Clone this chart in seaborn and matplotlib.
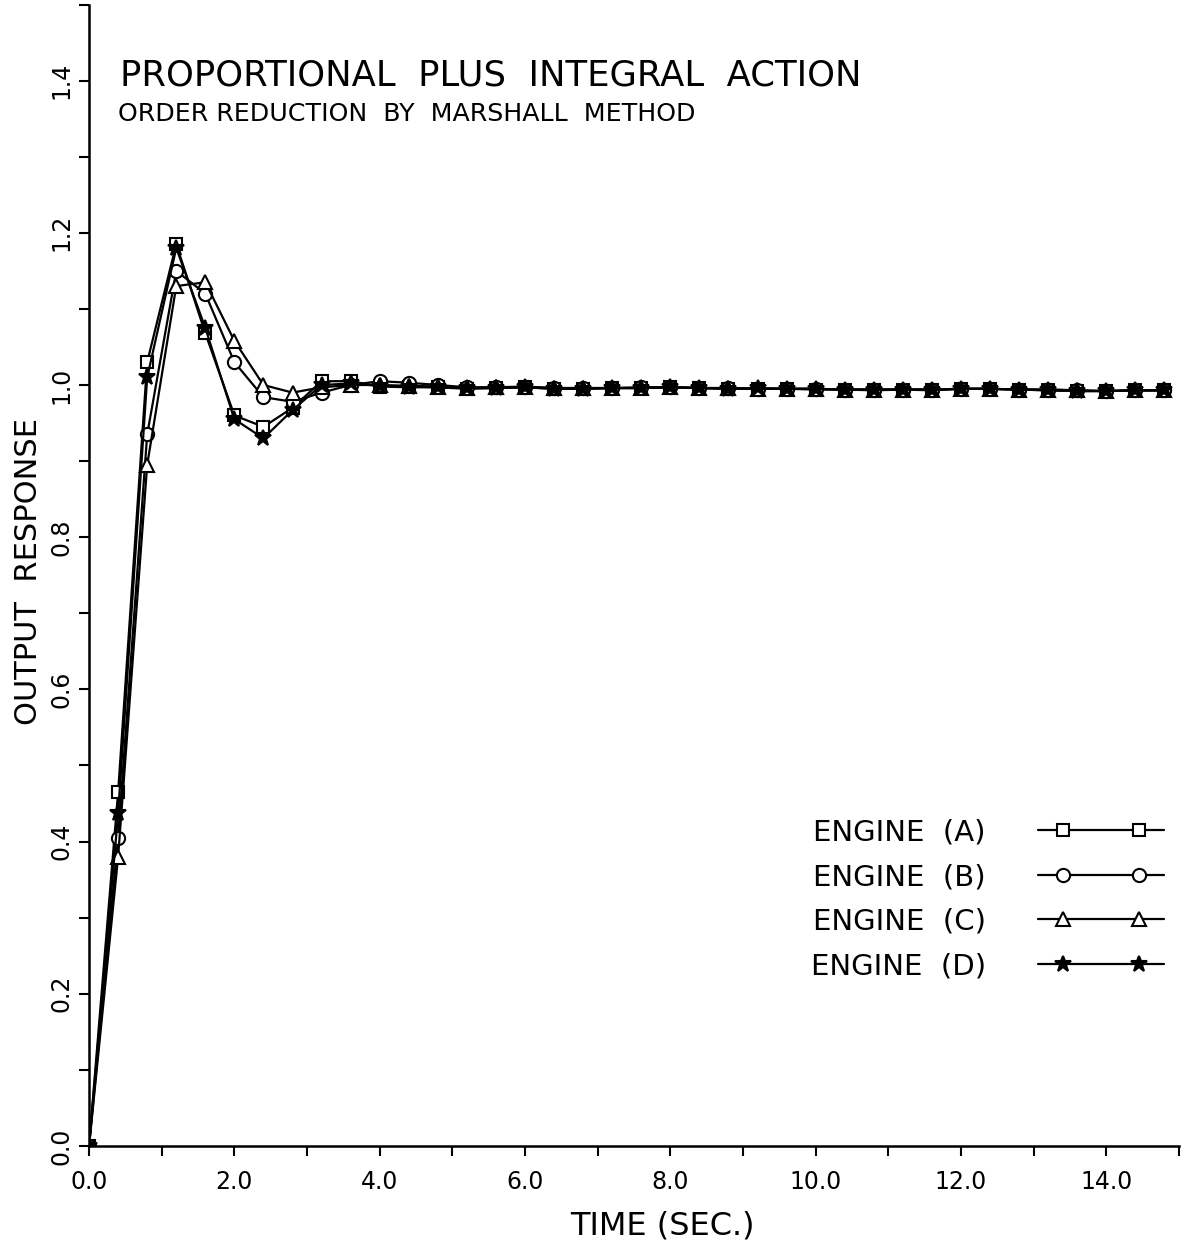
import numpy as np
import pandas as pd
import matplotlib
matplotlib.use("Agg")
import matplotlib.pyplot as plt
import seaborn as sns
from matplotlib.lines import Line2D
from matplotlib.legend_handler import HandlerLine2D
from matplotlib.ticker import MultipleLocator

# sample times (sec.) - markers every 0.4 s
time_s = [0.0, 0.4, 0.8, 1.2, 1.6, 2.0, 2.4, 2.8, 3.2, 3.6,
          4.0, 4.4, 4.8, 5.2, 5.6, 6.0, 6.4, 6.8, 7.2, 7.6,
          8.0, 8.4, 8.8, 9.2, 9.6, 10.0, 10.4, 10.8, 11.2, 11.6,
          12.0, 12.4, 12.8, 13.2, 13.6, 14.0, 14.4, 14.8]

# output response
engine_a = [0.0, 0.465, 1.03, 1.185, 1.068, 0.96, 0.945, 0.97, 1.005, 1.005,
            0.998, 0.997, 0.997, 0.995, 0.996, 0.997, 0.995, 0.995, 0.996, 0.996,
            0.997, 0.996, 0.995, 0.995, 0.995, 0.994, 0.994, 0.993, 0.994, 0.993,
            0.995, 0.995, 0.994, 0.993, 0.992, 0.992, 0.993, 0.993]
engine_b = [0.0, 0.405, 0.935, 1.15, 1.12, 1.03, 0.984, 0.978, 0.99, 1.0,
            1.005, 1.003, 1.0, 0.997, 0.997, 0.998, 0.996, 0.996, 0.996, 0.997,
            0.997, 0.996, 0.996, 0.995, 0.995, 0.995, 0.994, 0.994, 0.994, 0.994,
            0.995, 0.995, 0.994, 0.994, 0.993, 0.992, 0.993, 0.993]
engine_c = [0.0, 0.38, 0.895, 1.13, 1.135, 1.058, 1.0, 0.99, 0.997, 1.0,
            1.0, 0.999, 0.998, 0.996, 0.997, 0.997, 0.996, 0.996, 0.996, 0.996,
            0.997, 0.996, 0.996, 0.995, 0.995, 0.995, 0.994, 0.994, 0.994, 0.994,
            0.995, 0.995, 0.994, 0.994, 0.993, 0.992, 0.993, 0.993]
engine_d = [0.0, 0.437, 1.01, 1.18, 1.075, 0.955, 0.93, 0.967, 1.0, 1.002,
            0.999, 0.998, 0.997, 0.996, 0.996, 0.997, 0.995, 0.995, 0.996, 0.996,
            0.997, 0.996, 0.995, 0.996, 0.995, 0.995, 0.994, 0.994, 0.994, 0.994,
            0.995, 0.995, 0.994, 0.993, 0.992, 0.992, 0.993, 0.993]

engine_names = ["ENGINE  (A)", "ENGINE  (B)", "ENGINE  (C)", "ENGINE  (D)"]
x_ticks = [0, 2, 4, 6, 8, 10, 12, 14]
x_tick_labels = ["0.0", "2.0", "4.0", "6.0", "8.0", "10.0", "12.0", "14.0"]
y_ticks = [0.0, 0.2, 0.4, 0.6, 0.8, 1.0, 1.2, 1.4]
y_tick_labels = ["0.0", "0.2", "0.4", "0.6", "0.8", "1.0", "1.2", "1.4"]

sns.set_theme(style="ticks")
plt.rcParams["font.family"] = ["DejaVu Sans"]
plt.rcParams.update({"text.color": "black", "axes.labelcolor": "black",
                     "xtick.color": "black", "ytick.color": "black"})


class LongLineHandler(HandlerLine2D):
    # line runs the full handle width, the two markers sit inside it
    def create_artists(self, legend, orig_handle, xdescent, ydescent,
                       width, height, fontsize, trans):
        pad = 0.85 * fontsize
        x0 = -xdescent
        x1 = -xdescent + width
        xdata = np.array([x0, x0 + pad, x1 - pad, x1])
        ydata = np.full_like(xdata, (height - ydescent) / 2)
        legline = Line2D(xdata, ydata)
        self.update_prop(legline, orig_handle, legend)
        legline.set_drawstyle("default")
        legline.set_markevery([1, 2])
        legline.set_transform(trans)
        return [legline]


fig = plt.figure(figsize=(11.89, 12.53), dpi=100)
ax = fig.add_axes([0.0749, 0.0854, 0.9167, 0.911])

# marker, face colour, size for each engine
styles = [("s", "white", 8), ("o", "white", 9.5), ("^", "white", 10.5), ("*", "black", 12)]
series = [engine_a, engine_b, engine_c, engine_d]

for name, vals, (mk, fc, ms) in zip(engine_names, series, styles):
    df = pd.DataFrame({"t": time_s, "y": vals})
    sns.lineplot(data=df, x="t", y="y", ax=ax, color="black", linewidth=1.6,
                 marker=mk, markersize=ms, markerfacecolor=fc,
                 markeredgecolor="black", markeredgewidth=1.5,
                 errorbar=None, label=name, legend=False)

ax.set_xlim(0, 15)
ax.set_ylim(0, 1.5)
ax.set_xticks(x_ticks)
ax.set_xticklabels(x_tick_labels, fontsize=17)
ax.xaxis.set_minor_locator(MultipleLocator(1.0))
ax.set_yticks(y_ticks)
ax.set_yticklabels(y_tick_labels, fontsize=17, rotation=90, va="center")
ax.yaxis.set_minor_locator(MultipleLocator(0.1))
ax.tick_params(which="both", direction="out", length=7, width=1.5, color="black")
ax.tick_params(axis="x", pad=10)
ax.tick_params(axis="y", pad=4)
sns.despine(ax=ax)
for side in ["left", "bottom"]:
    ax.spines[side].set_linewidth(1.8)
    ax.spines[side].set_color("black")

ax.set_xlabel("TIME (SEC.)", fontsize=23)
ax.xaxis.set_label_coords(0.526, -0.07)
ax.xaxis.label.set_va("center")
ax.set_ylabel("OUTPUT  RESPONSE", fontsize=22)
ax.yaxis.set_label_coords(-0.056, 0.503)
ax.yaxis.label.set_va("center")

fig.text(120 / 1189, 1 - 85 / 1253, "PROPORTIONAL  PLUS  INTEGRAL  ACTION",
         fontsize=25.5, ha="left", va="baseline")
fig.text(118 / 1189, 1 - 121 / 1253, "ORDER REDUCTION  BY  MARSHALL  METHOD",
         fontsize=18.2, ha="left", va="baseline")

handles, labels = ax.get_legend_handles_labels()
ax.legend(handles, labels, loc="upper left", bbox_to_anchor=(0.662, 0.287),
          frameon=False, markerfirst=False, numpoints=2, fontsize=21,
          handlelength=4.3, handletextpad=1.8, labelspacing=0.57,
          borderpad=0, borderaxespad=0,
          handler_map={Line2D: LongLineHandler(numpoints=2)})

fig.savefig("out.png", dpi=100, facecolor="white")
